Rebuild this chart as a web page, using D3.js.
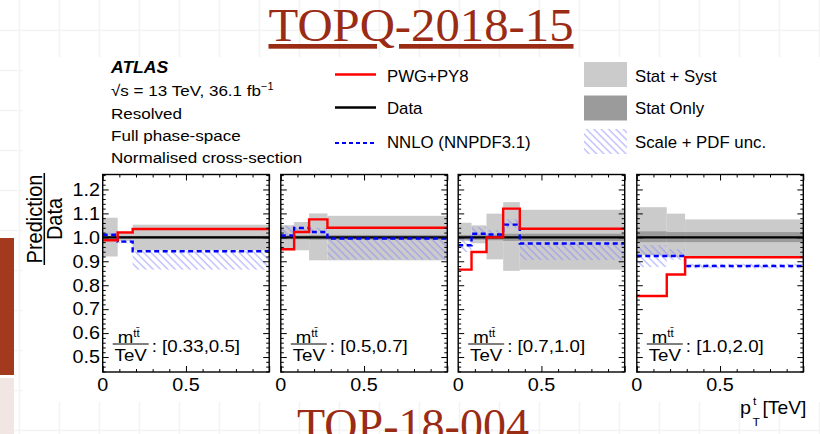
<!DOCTYPE html>
<html>
<head>
<meta charset="utf-8">
<script src="https://cdn.jsdelivr.net/npm/d3@7"></script>
<style>
  body { margin: 0; background: #fff; }
  svg { display: block; }
  text { font-family: "Liberation Sans", Arial, Helvetica, sans-serif; fill: #000; }
</style>
</head>
<body>
<svg id="chart" width="820" height="434"></svg>
<script>
// ---- data: ratio Prediction / Data in bins of top pT, per m(tt) slice ----
const massSlices = ["[0.33,0.5]", "[0.5,0.7]", "[0.7,1.0]", "[1.0,2.0]"];

// pT bin edges in TeV
const binEdges = [
  [0, 0.09, 0.18, 1.0],
  [0, 0.08, 0.17, 0.28, 1.0],
  [0, 0.08, 0.17, 0.27, 0.37, 1.0],
  [0, 0.18, 0.29, 1.0]
];

const dataRatio = [
  [1, 1, 1],
  [1, 1, 1, 1],
  [1, 1, 1, 1, 1],
  [1, 1, 1]
];

const pwgPy8 = [
  [0.988, 1.020, 1.035],
  [0.950, 1.022, 1.075, 1.040],
  [0.865, 0.939, 1.000, 1.120, 1.036],
  [0.755, 0.845, 0.917]
];

const nnlo = [
  [1.011, 0.982, 0.942],
  [1.008, 1.039, 1.022, 0.995],
  [0.967, 1.015, 1.012, 1.053, 0.974],
  [0.922, 0.922, 0.880]
];

// Stat + Syst band
const statSystHi = [
  [1.082, 1.015, 1.053],
  [1.050, 1.064, 1.100, 1.090],
  [1.061, 1.050, 1.099, 1.147, 1.115],
  [1.126, 1.099, 1.075]
];
const statSystLo = [
  [0.920, 0.985, 0.946],
  [0.946, 0.946, 0.904, 0.904],
  [0.985, 0.975, 0.908, 0.860, 0.865],
  [0.925, 0.917, 0.917]
];

// Stat only band
const statHi = [
  [1.006, 1.006, 1.006],
  [1.008, 1.008, 1.010, 1.010],
  [1.010, 1.010, 1.012, 1.015, 1.015],
  [1.025, 1.022, 1.022]
];
const statLo = [
  [0.994, 0.994, 0.994],
  [0.992, 0.992, 0.990, 0.990],
  [0.990, 0.990, 0.988, 0.985, 0.985],
  [0.980, 0.980, 0.980]
];

// Scale + PDF uncertainty on the NNLO prediction
const nnloUncHi = [
  [1.020, 0.990, 0.942],
  [1.050, 1.045, 1.040, 0.995],
  [0.995, 1.043, 1.030, 1.075, 0.974],
  [0.967, 0.950, 0.890]
];
const nnloUncLo = [
  [0.998, 0.975, 0.865],
  [0.995, 1.020, 1.015, 0.907],
  [0.939, 0.990, 1.005, 1.040, 0.905],
  [0.876, 0.905, 0.870]
];

const yMajorTicks = [0.5, 0.6, 0.7, 0.8, 0.9, 1.0, 1.1, 1.2];
const yTickLabels = ["0.5", "0.6", "0.7", "0.8", "0.9", "1.0", "1.1", "1.2"];
const xMajorTicks = [0, 0.5, 1.0];
const xTickLabels = ["0", "0.5"];

// ---- layout ----
const svg = d3.select("#chart");
const W = 820, H = 434;
const panelLefts = [102.7, 280.8, 458.2, 636.8];
const panelW = 166.5;
const plotTop = 174.5, plotBottom = 372;
const SX = 1.1; // horizontal stretch of the embedded figure's lettering

const red = "#ff0000", blue = "#0000ff";
const titleRed = "#9a2b15";
const serif = "'Liberation Serif', 'Times New Roman', serif";

function stext(parent, x, y, s, size, anchor, sx) {
  return parent.append("text")
    .attr("transform", `translate(${x},${y}) scale(${sx == null ? SX : sx},1)`)
    .attr("font-size", size)
    .attr("text-anchor", anchor || "start")
    .text(s);
}

// ---- slide background ----
svg.append("rect").attr("width", W).attr("height", H).attr("fill", "#fff");
const grid = svg.append("g").attr("stroke", "#f3f3f3").attr("stroke-width", 1.5);
d3.range(19.5, W, 40).forEach(x => grid.append("line").attr("x1", x).attr("x2", x).attr("y1", 0).attr("y2", H));
d3.range(30.5, H, 40).forEach(y => grid.append("line").attr("x1", 0).attr("x2", W).attr("y1", y).attr("y2", y));

// side accents of the slide
svg.append("rect").attr("x", 0).attr("y", 238).attr("width", 14).attr("height", 137).attr("fill", "#a33a1d");
svg.append("rect").attr("x", 0).attr("y", 378).attr("width", 14).attr("height", 56).attr("fill", "#f1e6e4");

// figure area
svg.append("rect").attr("x", 22).attr("y", 57).attr("width", W - 22).attr("height", 345).attr("fill", "#fff");

// slide titles
svg.append("text")
  .attr("x", 421).attr("y", 41)
  .attr("text-anchor", "middle")
  .style("font-family", serif)
  .attr("font-size", 47)
  .attr("textLength", 305).attr("lengthAdjust", "spacingAndGlyphs")
  .style("fill", titleRed)
  .style("text-decoration", "underline")
  .text("TOPQ-2018-15");

svg.append("text")
  .attr("x", 413).attr("y", 441)
  .attr("text-anchor", "middle")
  .style("font-family", serif)
  .attr("font-size", 47)
  .attr("textLength", 232).attr("lengthAdjust", "spacingAndGlyphs")
  .style("fill", titleRed)
  .text("TOP-18-004");

// ---- hatch pattern for Scale + PDF unc. ----
const defs = svg.append("defs");
const pat = defs.append("pattern")
  .attr("id", "hatch")
  .attr("patternUnits", "userSpaceOnUse")
  .attr("width", 5.2).attr("height", 5.2)
  .attr("patternTransform", "rotate(-45)");
pat.append("line")
  .attr("x1", 1).attr("x2", 1).attr("y1", 0).attr("y2", 5.2)
  .attr("stroke", "#8585ff").attr("stroke-width", 0.75);

// ---- scales ----
const y = d3.scaleLinear().domain([0.4375, 1.2625]).range([plotBottom, plotTop]);

const yMinor = d3.range(0.44, 1.261, 0.02).filter(v => !yMajorTicks.some(m => Math.abs(m - v) < 1e-6));
const xMinor = d3.range(0.1, 0.95, 0.1).filter(v => Math.abs(v - 0.5) > 1e-6);

function stepLine(x, edges, vals) {
  const pts = vals.map((v, i) => [edges[i], v]);
  pts.push([edges[edges.length - 1], vals[vals.length - 1]]);
  return d3.line().x(d => x(d[0])).y(d => y(d[1])).curve(d3.curveStepAfter)(pts);
}

function band(g, x, edges, lo, hi, fill) {
  g.selectAll(null).data(lo.map((l, i) => ({ x0: edges[i], x1: edges[i + 1], lo: l, hi: hi[i] })))
    .join("rect")
    .attr("x", d => x(d.x0))
    .attr("width", d => x(d.x1) - x(d.x0))
    .attr("y", d => y(d.hi))
    .attr("height", d => y(d.lo) - y(d.hi))
    .attr("fill", fill);
}

massSlices.forEach((slice, p) => {
  const left = panelLefts[p];
  const x = d3.scaleLinear().domain([0, 1]).range([left, left + panelW]);
  const g = svg.append("g");
  const edges = binEdges[p];

  // uncertainty bands
  band(g, x, edges, statSystLo[p], statSystHi[p], "#cbcbcb");
  band(g, x, edges, statLo[p], statHi[p], "#9b9b9b");
  band(g, x, edges, nnloUncLo[p], nnloUncHi[p], "url(#hatch)");

  // data, NNLO, PWG+PY8
  g.append("path").attr("d", stepLine(x, edges, dataRatio[p]))
    .attr("fill", "none").attr("stroke", "#000").attr("stroke-width", 2.2);
  g.append("path").attr("d", stepLine(x, edges, nnlo[p]))
    .attr("fill", "none").attr("stroke", blue).attr("stroke-width", 2.4)
    .attr("stroke-dasharray", "5,3.5");
  g.append("path").attr("d", stepLine(x, edges, pwgPy8[p]))
    .attr("fill", "none").attr("stroke", red).attr("stroke-width", 2.4);

  // ticks on all four sides, pointing inward
  const tick = (gen, tx, ty) => {
    const a = g.append("g").attr("transform", `translate(${tx},${ty})`).call(gen);
    a.select(".domain").remove();
    a.selectAll("line").attr("stroke", "#000").attr("stroke-width", 1);
    a.selectAll("text").remove();
  };
  tick(d3.axisLeft(y).tickValues(yMajorTicks).tickSize(-6), left, 0);
  tick(d3.axisLeft(y).tickValues(yMinor).tickSize(-3), left, 0);
  tick(d3.axisRight(y).tickValues(yMajorTicks).tickSize(-6), left + panelW, 0);
  tick(d3.axisRight(y).tickValues(yMinor).tickSize(-3), left + panelW, 0);
  tick(d3.axisBottom(x).tickValues(xMajorTicks).tickSize(-6), 0, plotBottom);
  tick(d3.axisBottom(x).tickValues(xMinor).tickSize(-3), 0, plotBottom);
  tick(d3.axisTop(x).tickValues(xMajorTicks).tickSize(-6), 0, plotTop);
  tick(d3.axisTop(x).tickValues(xMinor).tickSize(-3), 0, plotTop);

  // frame
  g.append("rect")
    .attr("x", left).attr("y", plotTop)
    .attr("width", panelW).attr("height", plotBottom - plotTop)
    .attr("fill", "none").attr("stroke", "#000").attr("stroke-width", 1.4);

  // x tick labels
  xTickLabels.forEach(t => stext(g, x(+t), 391, t, 18, "middle"));

  // m(tt)/TeV slice label
  const lg = g.append("g").attr("transform", `translate(${left + 10},344)`);
  stext(lg, 5, -1.2, "m", 17);
  stext(lg, 20.5, -7.5, "tt\u0304", 10.5);
  lg.append("line").attr("x1", 0).attr("x2", 36).attr("y1", 0).attr("y2", 0)
    .attr("stroke", "#000").attr("stroke-width", 1.2);
  stext(lg, 18, 16.5, "TeV", 17, "middle");
  stext(lg, 39, 7.5, ": " + slice, 17);
});

// y tick labels on the first panel
yMajorTicks.forEach((v, i) => stext(svg, 100, y(v) + 6.3, yTickLabels[i], 18, "end"));

// y-axis title: Prediction / Data
const yt = svg.append("g").attr("transform", `translate(44.3,219) rotate(-90) scale(1,${SX})`);
yt.append("text").attr("x", 0).attr("y", -2.2).attr("text-anchor", "middle").attr("font-size", 20).text("Prediction");
yt.append("line").attr("x1", -46).attr("x2", 46).attr("y1", 0).attr("y2", 0)
  .attr("stroke", "#000").attr("stroke-width", 1.4);
yt.append("text").attr("x", 0).attr("y", 15.8).attr("text-anchor", "middle").attr("font-size", 20).text("Data");

// x-axis title: pT^t [TeV]
stext(svg, 740, 414, "p", 18);
stext(svg, 753, 405, "t", 11);
stext(svg, 752.5, 426, "T", 11);
stext(svg, 762.5, 414, "[TeV]", 17.5);

// ---- legend block ----
const info = svg.append("g");
stext(info, 111, 72.7, "ATLAS", 16).attr("font-weight", "bold").attr("font-style", "italic");
const rs = stext(info, 111, 96, "", 15.5);
rs.append("tspan").text("\u221As = 13 TeV, 36.1 fb");
rs.append("tspan").attr("font-size", 10).attr("dy", -6).text("\u22121");
stext(info, 111, 119, "Resolved", 15.5);
stext(info, 111, 141, "Full phase-space", 15.5);
stext(info, 111, 163, "Normalised cross-section", 15.5);

const legLines = [
  { label: "PWG+PY8", y: 74.5, color: red, dash: null, w: 2.4, ty: 81.7 },
  { label: "Data", y: 107.5, color: "#000", dash: null, w: 2.6, ty: 114.3 },
  { label: "NNLO (NNPDF3.1)", y: 143, color: blue, dash: "4,3", w: 2.2, ty: 148 }
];
legLines.forEach(d => {
  info.append("line").attr("x1", 335).attr("x2", 376).attr("y1", d.y).attr("y2", d.y)
    .attr("stroke", d.color).attr("stroke-width", d.w).attr("stroke-dasharray", d.dash);
  stext(info, 387, d.ty, d.label, 16, "start", 1.05);
});

const legBoxes = [
  { label: "Stat + Syst", y0: 62, fill: "#cbcbcb", ty: 81.7 },
  { label: "Stat Only", y0: 95.5, fill: "#9b9b9b", ty: 114.3 },
  { label: "Scale + PDF unc.", y0: 129, fill: "url(#hatch)", ty: 148 }
];
legBoxes.forEach(d => {
  info.append("rect").attr("x", 584).attr("y", d.y0).attr("width", 43).attr("height", 25).attr("fill", d.fill);
  stext(info, 635, d.ty, d.label, 16, "start", 1.05);
});
</script>
</body>
</html>
